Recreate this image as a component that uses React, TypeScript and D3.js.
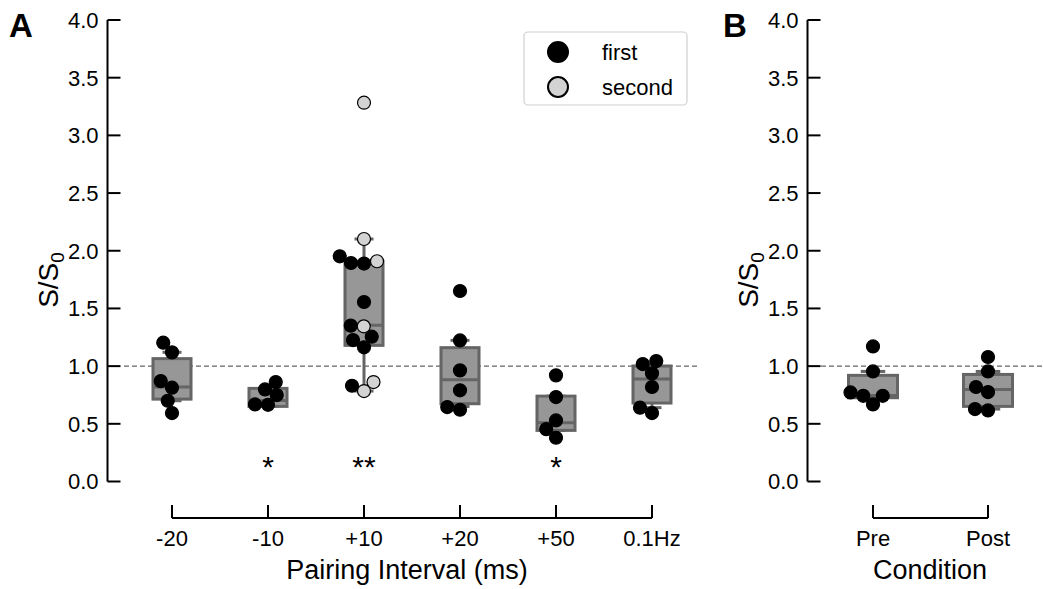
import React from "react";
import * as d3 from "d3";

// panel A: pairing interval
const categoriesA = ["-20", "-10", "+10", "+20", "+50", "0.1Hz"];
const firstA = [
  [1.203, 1.119, 0.87, 0.813, 0.7, 0.593],
  [0.862, 0.798, 0.749, 0.668, 0.665],
  [1.952, 1.894, 1.889, 1.556, 1.351, 1.255, 1.226, 1.163, 0.83],
  [1.651, 1.223, 0.963, 0.79, 0.645, 0.622],
  [0.92, 0.732, 0.529, 0.454, 0.379],
  [1.044, 1.018, 0.937, 0.819, 0.64, 0.593],
];
const secondA = [[], [], [3.283, 2.102, 1.909, 1.345, 0.862, 0.784], [], [], []];
const q1A = [0.714, 0.651, 1.18, 0.674, 0.443, 0.68];
const medianA = [0.818, 0.703, 1.354, 0.882, 0.509, 0.888];
const q3A = [1.065, 0.807, 1.909, 1.16, 0.74, 1.001];
const whiskerLowA = [0.7, 0.651, 0.784, 0.65, 0.443, 0.64];
const whiskerHighA = [1.12, 0.807, 2.102, 1.223, 0.74, 1.001];
const starsA = ["", "*", "**", "", "*", ""];

// panel B: condition
const conditionsB = ["Pre", "Post"];
const firstB = [
  [1.171, 0.954, 0.772, 0.743, 0.743, 0.668],
  [1.079, 0.954, 0.819, 0.775, 0.628, 0.616],
];
const q1B = [0.726, 0.651];
const medianB = [0.745, 0.798];
const q3B = [0.92, 0.928];
const whiskerLowB = [0.726, 0.628];
const whiskerHighB = [0.954, 0.954];

const yTicks = [0, 0.5, 1, 1.5, 2, 2.5, 3, 3.5, 4];
const seriesNames = ["first", "second"];

const FONT = "'Liberation Sans', Arial, sans-serif";
const BOX_FILL = "#979797";
const BOX_EDGE = "#656565";
const R = 6.5;

type Pt = { v: number; s: number };

// simple beeswarm: smallest offset from centre that doesn't overlap
function swarm(pts: Pt[], y: (v: number) => number, cx: number) {
  const sorted = [...pts].sort((a, b) => a.v - b.v);
  const placed: { dx: number; y: number; s: number }[] = [];
  const d2 = (2 * R) * (2 * R) - 0.01;
  for (const p of sorted) {
    const py = y(p.v);
    let chosen = 0;
    outer: for (let k = 0; k < 400; k++) {
      const cands = k === 0 ? [0] : [-k * 0.25, k * 0.25];
      for (const c of cands) {
        let ok = true;
        for (const q of placed) {
          const dx = c - q.dx;
          const dy = py - q.y;
          if (dx * dx + dy * dy < d2) { ok = false; break; }
        }
        if (ok) { chosen = c; break outer; }
      }
    }
    placed.push({ dx: chosen, y: py, s: p.s });
  }
  return placed.map((q) => ({ x: cx + q.dx, y: q.y, s: q.s }));
}

function Box({ cx, w, y, q1, med, q3, lo, hi }: any) {
  return (
    <g stroke={BOX_EDGE} strokeWidth={3}>
      <line x1={cx} x2={cx} y1={y(q3)} y2={y(hi)} />
      <line x1={cx} x2={cx} y1={y(q1)} y2={y(lo)} />
      <line x1={cx - w / 4} x2={cx + w / 4} y1={y(hi)} y2={y(hi)} />
      <line x1={cx - w / 4} x2={cx + w / 4} y1={y(lo)} y2={y(lo)} />
      <rect x={cx - w / 2} y={y(q3)} width={w} height={y(q1) - y(q3)} fill={BOX_FILL} />
      <line x1={cx - w / 2} x2={cx + w / 2} y1={y(med)} y2={y(med)} />
    </g>
  );
}

function Dots({ pts }: { pts: { x: number; y: number; s: number }[] }) {
  return (
    <g>
      {pts.map((p, i) => (
        <circle key={i} cx={p.x} cy={p.y} r={R} fill={p.s === 0 ? "#000" : "#d3d3d3"} stroke="#000" strokeWidth={1.2} />
      ))}
    </g>
  );
}

function YAxis({ x, y, labelX }: any) {
  return (
    <g fontFamily={FONT} fontSize={22}>
      <line x1={x} x2={x} y1={y(0)} y2={y(4)} stroke="#000" strokeWidth={2} />
      {yTicks.map((t) => (
        <g key={t}>
          <line x1={x} x2={x + 13} y1={y(t)} y2={y(t)} stroke="#000" strokeWidth={2} />
          <text x={x - 9} y={y(t)} dy="0.36em" textAnchor="end">{t.toFixed(1)}</text>
        </g>
      ))}
      <text transform={`translate(${labelX},280) rotate(-90)`} textAnchor="middle" fontSize={28}>
        S/S<tspan fontSize={19} dy={6}>0</tspan>
      </text>
    </g>
  );
}

function XAxis({ scale, cats, yPos, label, labelX }: any) {
  const xs = cats.map((c: string) => scale(c));
  return (
    <g fontFamily={FONT} fontSize={22}>
      <line x1={xs[0]} x2={xs[xs.length - 1]} y1={yPos} y2={yPos} stroke="#000" strokeWidth={2} />
      {cats.map((c: string) => (
        <g key={c}>
          <line x1={scale(c)} x2={scale(c)} y1={yPos} y2={yPos - 13} stroke="#000" strokeWidth={2} />
          <text x={scale(c)} y={yPos + 28} textAnchor="middle">{c}</text>
        </g>
      ))}
      <text x={labelX} y={yPos + 61} textAnchor="middle" fontSize={27}>{label}</text>
    </g>
  );
}

export default function App() {
  const yA = d3.scaleLinear().domain([0, 4]).range([481.5, 20]);
  const xA = d3.scalePoint().domain(categoriesA).range([172, 652]);
  const xB = d3.scalePoint().domain(conditionsB).range([873, 988]);

  const ptsA = categoriesA.map((c, i) =>
    swarm(
      [...firstA[i].map((v) => ({ v, s: 0 })), ...secondA[i].map((v) => ({ v, s: 1 }))],
      yA,
      xA(c) as number
    )
  );
  const ptsB = conditionsB.map((c, i) =>
    swarm(firstB[i].map((v) => ({ v, s: 0 })), yA, xB(c) as number)
  );

  return (
    <svg width={1043} height={589} style={{ position: "absolute", left: 0, top: 0, background: "#fff" }}>
      {/* panel A */}
      <line x1={124} x2={700} y1={yA(1)} y2={yA(1)} stroke="#666" strokeWidth={1.2} strokeDasharray="5,3" />
      {categoriesA.map((c, i) => (
        <Box key={c} cx={xA(c)} w={38} y={yA} q1={q1A[i]} med={medianA[i]} q3={q3A[i]} lo={whiskerLowA[i]} hi={whiskerHighA[i]} />
      ))}
      {ptsA.map((p, i) => <Dots key={i} pts={p} />)}
      {categoriesA.map((c, i) =>
        starsA[i] ? (
          <text key={c} x={xA(c)} y={yA(0.2) + 19} textAnchor="middle" fontFamily={FONT} fontSize={30}>{starsA[i]}</text>
        ) : null
      )}
      <YAxis x={107.5} y={yA} labelX={58} />
      <XAxis scale={xA} cats={categoriesA} yPos={518} label="Pairing Interval (ms)" labelX={407} />
      <text x={9} y={37} fontFamily={FONT} fontSize={33} fontWeight="bold">A</text>

      {/* legend */}
      <rect x={524} y={32} width={163} height={73} rx={4} fill="#fff" stroke="#d0d0d0" strokeWidth={1.2} />
      {seriesNames.map((s, i) => (
        <g key={s} fontFamily={FONT} fontSize={22}>
          <circle cx={558} cy={52 + i * 35} r={10} fill={i === 0 ? "#000" : "#d3d3d3"} stroke="#000" strokeWidth={2} />
          <text x={602} y={52 + i * 35} dy="0.36em">{s}</text>
        </g>
      ))}

      {/* panel B */}
      <line x1={821} x2={1043} y1={yA(1)} y2={yA(1)} stroke="#666" strokeWidth={1.2} strokeDasharray="5,3" />
      {conditionsB.map((c, i) => (
        <Box key={c} cx={xB(c)} w={49} y={yA} q1={q1B[i]} med={medianB[i]} q3={q3B[i]} lo={whiskerLowB[i]} hi={whiskerHighB[i]} />
      ))}
      {ptsB.map((p, i) => <Dots key={i} pts={p} />)}
      <YAxis x={807.5} y={yA} labelX={758} />
      <XAxis scale={xB} cats={conditionsB} yPos={518} label="Condition" labelX={930} />
      <text x={723} y={37} fontFamily={FONT} fontSize={33} fontWeight="bold">B</text>
    </svg>
  );
}
